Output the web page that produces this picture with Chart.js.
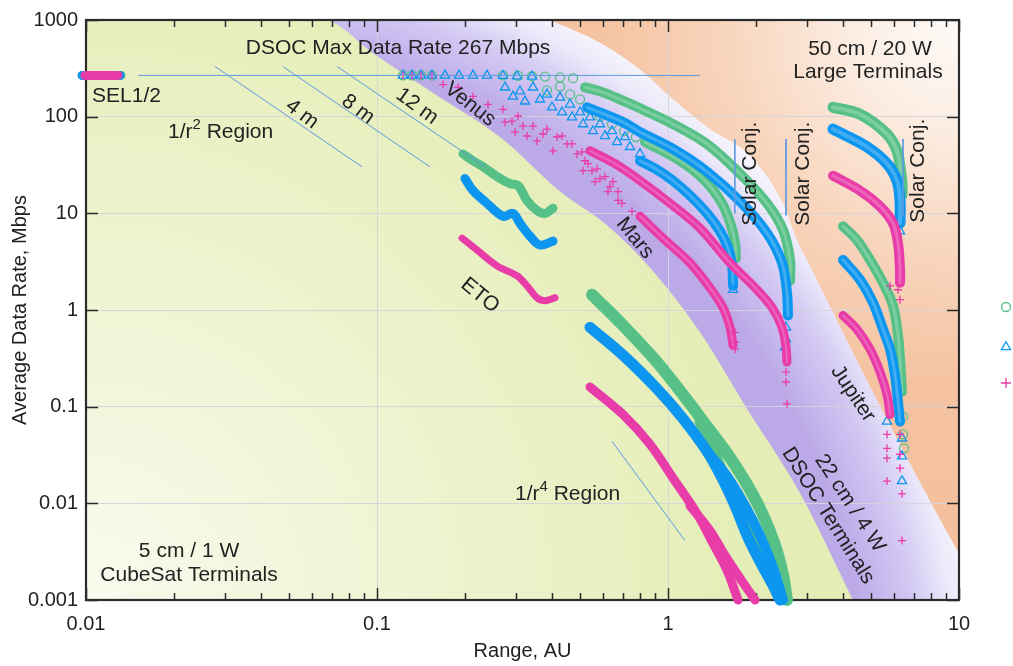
<!DOCTYPE html>
<html>
<head>
<meta charset="utf-8">
<script src="https://cdn.jsdelivr.net/npm/chart.js@4.4.1/dist/chart.umd.min.js"></script>
<style>
  html, body { margin: 0; padding: 0; background: #fff; }
  canvas { display: block; }
</style>
</head>
<body>
<canvas id="chart" width="1013" height="666"></canvas>
<script>
// axes
const xTicks = [0.01, 0.1, 1, 10];
const xTickLabels = ['0.01', '0.1', '1', '10'];
const yTicks = [0.001, 0.01, 0.1, 1, 10, 100, 1000];
const yTickLabels = ['0.001', '0.01', '0.1', '1', '10', '100', '1000'];

// terminal regions, boundary curves [AU, Mbps]
const cubesatEdge = [[0.01, 1000], [0.0652, 1000], [0.0984, 437], [0.1647, 158], [0.2647, 61.6], [0.4256, 16.8],
  [0.6172, 7.53], [0.8672, 2.73], [1.288, 0.588], [1.868, 0.0954], [2.84, 0.0128], [4.32, 0.001]];
const largeEdge = [[0.393, 1000], [0.584, 581], [0.801, 307], [1.040, 151], [1.394, 74.4], [1.913, 39.3],
  [2.485, 12.7], [2.775, 5.29], [3.076, 2.86], [3.690, 0.943], [5.27, 0.112], [7.95, 0.0106], [10, 0.00303]];
const dsocTop = [[0.01, 1000], [10, 1000]];

// guide lines
const maxRateLine = [[0.0151, 267], [1.288, 267]];
const line4m = [[0.02775, 330], [0.0888, 30.3]];
const line8m = [[0.0475, 330], [0.152, 30.3]];
const line12m = [[0.0729, 330], [0.235, 30.3]];
const lineR4 = [[0.642, 0.0438], [1.143, 0.00412]];
const conj1 = [[1.697, 58.7], [1.697, 10]];
const conj2 = [[2.544, 58.7], [2.544, 9.5]];
const conj3 = [[6.42, 58.7], [6.42, 9.3]];

// green series (circles)
const greenSel = [[0.00969, 267], [0.01319, 267]];
const greenTop = [[0.1228, 267], [0.1319, 267], [0.1417, 267], [0.1545, 267], [0.2710, 267], [0.3051, 265],
  [0.3409, 262], [0.3779, 260], [0.4256, 255], [0.4717, 250]];
const greenVenusDots = [[0.3839, 187], [0.4256, 205], [0.4605, 170], [0.4986, 151], [0.5395, 119], [0.5839, 101],
  [0.642, 83.8], [0.706, 71.0], [0.776, 61.6]];
const greenVenus = [[0.834, 54.8], [1.100, 35.0], [1.340, 21.8], [1.533, 12.7], [1.646, 7.53], [1.700, 4.92], [1.713, 3.46]];
const greenMars = [[0.5187, 200.7], [0.5839, 182.6], [0.6841, 151], [0.8013, 122], [1.040, 83.8], [1.361, 52.2],
  [1.768, 25.7], [2.189, 12.7], [2.485, 6.69], [2.626, 3.30], [2.626, 2.01]];
const greenEto = [[0.1975, 41.2], [0.2137, 35.0], [0.2314, 30.3], [0.2585, 24.0], [0.2864, 20.3], [0.3051, 19.4],
  [0.3277, 13.6], [0.3547, 10.7], [0.3779, 10.0], [0.4026, 11.3]];
const greenLow = [[0.5482, 1.44], [0.7005, 0.693], [0.9167, 0.289], [1.126, 0.133], [1.361, 0.0624], [1.595, 0.033],
  [1.839, 0.017], [2.104, 0.008], [2.333, 0.00366], [2.485, 0.0018], [2.564, 0.001]];
const greenLow2 = [[1.288, 0.0702], [1.417, 0.0389], [1.533, 0.0216], [1.768, 0.00943], [2.022, 0.00443],
  [2.278, 0.00229], [2.485, 0.00127]];
const greenJup = [[3.690, 125], [4.569, 106], [5.657, 66.2], [6.122, 44.3], [6.270, 30.3], [6.370, 20.3], [6.370, 15.5]];
const greenJup2 = [[3.994, 7.36], [4.462, 5.29], [4.946, 3.30], [5.481, 1.91], [5.933, 1.11], [6.171, 0.548],
  [6.270, 0.311], [6.370, 0.143]];
const greenJupDots = [[6.421, 0.0789], [6.421, 0.0516], [6.47, 0.0371]];

// blue series (triangles)
const blueSel = [[0.0097, 267], [0.0131, 267]];
const blueTop = [[0.1228, 267], [0.1319, 267], [0.1417, 267], [0.1545, 267], [0.1713, 267], [0.1913, 267],
  [0.2137, 267], [0.2388, 267], [0.2710, 265], [0.3027, 262], [0.3409, 260]];
const blueVenusDots = [[0.2754, 201], [0.2933, 162], [0.3099, 183], [0.3225, 144], [0.3436, 201], [0.3632, 151],
  [0.3839, 170], [0.3994, 125], [0.4256, 158], [0.4324, 111], [0.4605, 134], [0.4680, 98.8], [0.4986, 111],
  [0.5106, 83.8], [0.5395, 98.8], [0.5525, 71.0], [0.5839, 83.8], [0.6075, 63.1], [0.642, 71.0], [0.6680, 54.8],
  [0.7116, 61.6], [0.7403, 48.7], [0.8013, 41.2]];
const blueVenus = [[0.8013, 35.0], [0.9167, 28.3], [1.040, 21.8], [1.190, 15.3], [1.361, 10.0], [1.509, 6.54],
  [1.608, 4.38], [1.660, 2.93], [1.673, 1.78]];
const blueMars = [[0.5269, 125], [0.7005, 87.8], [0.8013, 69.3], [1.040, 46.4], [1.361, 27.0], [1.768, 13.3],
  [2.189, 6.24], [2.465, 3.07], [2.564, 1.51], [2.585, 0.878]];
const blueTails = [[1.673, 1.62], [2.544, 0.661], [2.544, 0.498], [2.525, 0.412]];
const blueEto = [[0.2006, 22.9], [0.2137, 17.2], [0.2388, 12.7], [0.2710, 9.32], [0.2933, 10.0], [0.3099, 7.90],
  [0.3356, 5.81], [0.3632, 4.70], [0.4026, 5.16]];
const blueLow = [[0.5395, 0.661], [0.7005, 0.341], [0.9167, 0.153], [1.126, 0.0753], [1.361, 0.0345], [1.533, 0.0183],
  [1.700, 0.00943], [1.883, 0.00443], [2.104, 0.00229], [2.296, 0.00141], [2.427, 0.001]];
const blueLow2 = [[1.361, 0.0345], [1.595, 0.0191], [1.839, 0.00943], [2.071, 0.00464], [2.278, 0.00229],
  [2.427, 0.00127], [2.485, 0.001]];
const blueJup = [[3.690, 74.4], [4.829, 48.7], [5.657, 32.6], [6.122, 21.8], [6.270, 13.6], [6.270, 7.90]];
const blueJup2 = [[3.994, 3.30], [4.569, 2.06], [5.065, 1.19], [5.481, 0.631], [5.794, 0.393], [6.027, 0.213],
  [6.171, 0.112], [6.270, 0.0702]];
const blueJupDots = [[6.270, 6.54], [6.370, 0.047], [6.370, 0.0307], [6.370, 0.017], [5.657, 0.0702]];

// pink series (crosses)
const pinkSel = [[0.00992, 267], [0.01288, 267]];
const pinkTop = [[0.1228, 267], [0.1319, 267], [0.1417, 267], [0.1545, 267]];
const pinkVenusDots = [[0.1686, 215], [0.1898, 201], [0.2137, 162], [0.2407, 134], [0.2710, 119], [0.2754, 87.8],
  [0.2910, 89.9], [0.3051, 101], [0.2980, 69.3], [0.3174, 79.9], [0.3277, 63.1], [0.3436, 79.9], [0.3547, 56.1],
  [0.3719, 66.2], [0.3839, 74.4], [0.4026, 44.3], [0.4156, 61.6], [0.4324, 63.1], [0.4498, 52.2], [0.4680, 52.2],
  [0.4869, 41.2], [0.5065, 43.2], [0.5187, 35.0], [0.5311, 32.6], [0.5482, 27.6], [0.5702, 28.9], [0.5839, 22.9],
  [0.6075, 24.0], [0.6320, 18.9], [0.6471, 21.3], [0.6733, 16.8], [0.6733, 13.6], [0.5106, 27.6], [0.5612, 21.3],
  [0.622, 16.8], [0.695, 12.7], [0.752, 10.5]];
const pinkVenus = [[0.8013, 9.32], [0.9765, 5.29], [1.190, 3.07], [1.394, 1.70], [1.545, 1.06], [1.634, 0.661], [1.673, 0.432]];
const pinkMars = [[0.5395, 44.3], [0.6575, 32.6], [0.8013, 21.8], [1.016, 12.7], [1.288, 7.02], [1.634, 3.07],
  [1.991, 1.70], [2.278, 1.06], [2.465, 0.661], [2.544, 0.412], [2.564, 0.289]];
const pinkTails = [[1.700, 0.588], [1.700, 0.464], [1.700, 0.393], [2.544, 0.229], [2.544, 0.180], [2.564, 0.107]];
const pinkEto = [[0.1960, 5.54], [0.2206, 4.17], [0.2585, 2.86], [0.3027, 2.26], [0.3277, 1.78], [0.3547, 1.34],
  [0.3779, 1.25], [0.4090, 1.34]];
const pinkLow = [[0.5395, 0.160], [0.7005, 0.0828], [0.8672, 0.0408], [1.040, 0.0183], [1.258, 0.0078],
  [1.428, 0.00384], [1.595, 0.00203], [1.740, 0.001]];
const pinkLow2 = [[1.190, 0.00943], [1.394, 0.00522], [1.570, 0.00289], [1.768, 0.00168], [1.991, 0.001]];
const pinkJup = [[3.690, 24.5], [4.569, 17.2], [5.352, 11.8], [5.933, 7.90], [6.171, 4.92], [6.270, 2.60], [6.270, 1.91]];
const pinkJup2 = [[3.994, 0.878], [4.462, 0.631], [4.946, 0.393], [5.352, 0.229], [5.657, 0.133], [5.794, 0.0828]];
const pinkJupDots = [[6.171, 1.62], [6.270, 1.28], [5.794, 1.78], [5.657, 0.0516], [5.657, 0.0371], [5.657, 0.0293],
  [5.657, 0.017], [6.270, 0.0516], [6.270, 0.0322], [6.270, 0.0231], [6.370, 0.0125], [6.370, 0.00412]];

// annotations [AU, Mbps]
const notes = [
  { text: 'DSOC Max Data Rate 267 Mbps', x: 0.1181, y: 516 },
  { text: 'SEL1/2', x: 0.01049, y: 162, align: 'left' },
  { text: '4 m', x: 0.05525, y: 106, rot: 37 },
  { text: '8 m', x: 0.0861, y: 119, rot: 37 },
  { text: '12 m', x: 0.1372, y: 128, rot: 36 },
  { text: 'Venus', x: 0.2087, y: 134, rot: 38 },
  { text: 'ETO', x: 0.226, y: 1.41, rot: 39 },
  { text: 'Mars', x: 0.770, y: 5.54, rot: 51 },
  { text: 'Solar Conj.', x: 1.913, y: 25.7, rot: -90 },
  { text: 'Solar Conj.', x: 2.91, y: 25.7, rot: -90 },
  { text: 'Solar Conj.', x: 7.23, y: 27.6, rot: -90 },
  { text: '50 cm / 20 W', x: 4.946, y: 504 },
  { text: 'Large Terminals', x: 4.867, y: 286 },
  { text: 'Jupiter', x: 4.32, y: 0.136, rot: 56 },
  { text: '22 cm / 4 W', x: 4.22, y: 0.01, rot: 57 },
  { text: 'DSOC Terminals', x: 3.55, y: 0.00745, rot: 58 },
  { text: '5 cm / 1 W', x: 0.0226, y: 0.00318 },
  { text: 'CubeSat Terminals', x: 0.0226, y: 0.0018 },
];
const powerNotes = [
  { base: '1/r', sup: '2', rest: ' Region', x: 0.01913, y: 69.3 },
  { base: '1/r', sup: '4', rest: ' Region', x: 0.298, y: 0.0125 },
];

const GREEN = 'rgb(86,192,134)';
const BLUE = 'rgb(12,150,240)';
const PINK = 'rgb(232,60,168)';
const FONT = '"Liberation Sans", Arial, Helvetica, sans-serif';

const pts = arr => arr.map(([x, y]) => ({ x, y }));

function band(arr, color, width, order) {
  return {
    data: pts(arr), borderColor: color, borderWidth: width, pointRadius: 0, tension: 0.35,
    fill: false, clip: false, borderCapStyle: 'round', borderJoinStyle: 'round', order
  };
}

// dense runs of markers: coloured band with a lighter core
function markBand(arr, color, width, order) {
  return [band(arr, 'rgba(255,255,255,0.22)', Math.max(2, width - 7), order), band(arr, color, width, order)];
}

function marks(arr, style, color, r, order) {
  return {
    data: pts(arr), showLine: false, pointStyle: style, pointRadius: r, pointBorderColor: color,
    pointBackgroundColor: 'rgba(0,0,0,0)', pointBorderWidth: 1.3, clip: false, order
  };
}

function guide(arr) {
  return { data: pts(arr), borderColor: 'rgb(95,155,225)', borderWidth: 1, pointRadius: 0, fill: false, order: 0 };
}

function radial(ctx, cx, cy, stops) {
  const max = stops[stops.length - 1][0];
  const g = ctx.createRadialGradient(cx, cy, 0, cx, cy, max);
  stops.forEach(([r, c]) => g.addColorStop(r / max, c));
  return g;
}

function region(arr, fill, paint, order) {
  return {
    data: pts(arr), borderWidth: 0, borderColor: 'rgba(0,0,0,0)', pointRadius: 0, fill,
    cubicInterpolationMode: 'monotone', order,
    backgroundColor: (c) => {
      const a = c.chart.chartArea;
      if (!a) return 'rgba(0,0,0,0)';
      return paint(c.chart.ctx, a);
    }
  };
}

const purplePaint = (ctx, a) => radial(ctx, a.left + 93, a.top + 706, [
  [0, 'rgb(186,168,232)'], [690, 'rgb(188,170,232)'], [745, 'rgb(211,201,243)'],
  [780, 'rgb(236,233,250)'], [805, 'rgb(246,244,252)'], [1100, 'rgb(247,245,252)']]);
const orangePaint = (ctx, a) => radial(ctx, a.right + 1, a.top, [
  [0, 'rgb(254,250,247)'], [90, 'rgb(252,240,231)'], [230, 'rgb(248,214,190)'],
  [360, 'rgb(245,195,162)'], [600, 'rgb(243,190,155)']]);
const yellowPaint = (ctx, a) => radial(ctx, a.left, a.bottom, [
  [0, 'rgb(250,250,238)'], [300, 'rgb(240,244,212)'], [650, 'rgb(229,238,184)'], [900, 'rgb(226,236,178)']]);

const datasets = [
  guide(maxRateLine), guide(line4m), guide(line8m), guide(line12m), guide(lineR4),
  guide(conj1), guide(conj2), guide(conj3),

  band(pinkSel, PINK, 9, 1),
  marks(pinkTop, 'cross', PINK, 4, 1),
  marks(pinkVenusDots, 'cross', PINK, 4, 1),
  marks(pinkTails, 'cross', PINK, 4, 1),
  marks(pinkJupDots, 'cross', PINK, 4, 1),
  markBand(pinkVenus, PINK, 9, 1),
  markBand(pinkMars, PINK, 9, 1),
  markBand(pinkJup, PINK, 10, 1),
  markBand(pinkJup2, PINK, 9, 1),
  band(pinkEto, PINK, 7, 1),
  band(pinkLow, PINK, 9, 1),
  band(pinkLow2, PINK, 9, 1),

  band(blueSel, BLUE, 9, 2),
  marks(blueTop, 'triangle', BLUE, 5.3, 2),
  marks(blueVenusDots, 'triangle', BLUE, 5.3, 2),
  marks(blueTails, 'triangle', BLUE, 5.3, 2),
  marks(blueJupDots, 'triangle', BLUE, 5.3, 2),
  markBand(blueVenus, BLUE, 10, 2),
  markBand(blueMars, BLUE, 10, 2),
  markBand(blueJup, BLUE, 11, 2),
  markBand(blueJup2, BLUE, 10, 2),
  band(blueEto, BLUE, 9, 2),
  band(blueLow, BLUE, 11, 2),
  band(blueLow2, BLUE, 10, 2),

  band(greenSel, GREEN, 9, 3),
  marks(greenTop, 'circle', GREEN, 4.5, 3),
  marks(greenVenusDots, 'circle', GREEN, 4.5, 3),
  marks(greenJupDots, 'circle', GREEN, 4.5, 3),
  markBand(greenVenus, GREEN, 10, 3),
  markBand(greenMars, GREEN, 10, 3),
  markBand(greenJup, GREEN, 11, 3),
  markBand(greenJup2, GREEN, 10, 3),
  band(greenEto, GREEN, 9, 3),
  band(greenLow, GREEN, 12, 3),
  band(greenLow2, GREEN, 11, 3),

  region(largeEdge, 'end', orangePaint, 20),
  region(cubesatEdge, 'start', yellowPaint, 21),
  region(dsocTop, 'start', purplePaint, 22),
].flat();

const framePlugin = {
  id: 'frame',
  beforeDatasetsDraw(chart) {
    const { ctx, chartArea: a, scales: { x, y } } = chart;
    ctx.save();
    ctx.strokeStyle = '#2b2b2b';
    ctx.lineWidth = 1.5;
    ctx.beginPath();
    xTicks.forEach((d, i) => {
      for (let k = 1; k < 10; k++) {
        if (i === xTicks.length - 1 && k > 1) break;
        const px = Math.round(x.getPixelForValue(d * k)) + 0.5;
        const len = k === 1 ? 12 : 7;
        ctx.moveTo(px, a.bottom); ctx.lineTo(px, a.bottom - len);
        ctx.moveTo(px, a.top); ctx.lineTo(px, a.top + len);
      }
    });
    yTicks.forEach(v => {
      const py = Math.round(y.getPixelForValue(v)) + 0.5;
      ctx.moveTo(a.left, py); ctx.lineTo(a.left + 12, py);
      ctx.moveTo(a.right, py); ctx.lineTo(a.right - 12, py);
    });
    ctx.stroke();
    ctx.lineWidth = 2.2;
    ctx.strokeRect(a.left, a.top, a.right - a.left, a.bottom - a.top);
    ctx.restore();
  }
};

const notesPlugin = {
  id: 'notes',
  afterDatasetsDraw(chart) {
    const { ctx, scales: { x, y } } = chart;
    ctx.save();
    ctx.fillStyle = '#222';
    ctx.textBaseline = 'middle';
    notes.forEach(n => {
      ctx.save();
      ctx.translate(x.getPixelForValue(n.x), y.getPixelForValue(n.y));
      ctx.rotate((n.rot || 0) * Math.PI / 180);
      ctx.font = '21px ' + FONT;
      ctx.textAlign = n.align || 'center';
      ctx.fillText(n.text, 0, 0);
      ctx.restore();
    });
    powerNotes.forEach(n => {
      let px = x.getPixelForValue(n.x);
      const py = y.getPixelForValue(n.y);
      ctx.textAlign = 'left';
      ctx.font = '21px ' + FONT;
      ctx.fillText(n.base, px, py);
      px += ctx.measureText(n.base).width;
      ctx.font = '15px ' + FONT;
      ctx.fillText(n.sup, px, py - 7);
      px += ctx.measureText(n.sup).width;
      ctx.font = '21px ' + FONT;
      ctx.fillText(n.rest, px, py);
    });
    ctx.restore();
  }
};

// legend column is cut off at the right edge: only the markers show
const legendPlugin = {
  id: 'legendMarks',
  afterDraw(chart) {
    const { ctx, chartArea: a } = chart;
    const cx = a.right + 47;
    ctx.save();
    ctx.lineWidth = 1.3;
    ctx.strokeStyle = GREEN;
    ctx.beginPath(); ctx.arc(cx, 307, 4.5, 0, Math.PI * 2); ctx.stroke();
    ctx.strokeStyle = BLUE;
    ctx.beginPath();
    ctx.moveTo(cx, 347 - 5.3); ctx.lineTo(cx - 4.6, 347 + 2.65); ctx.lineTo(cx + 4.6, 347 + 2.65); ctx.closePath();
    ctx.stroke();
    ctx.strokeStyle = PINK;
    ctx.beginPath();
    ctx.moveTo(cx - 5, 383); ctx.lineTo(cx + 5, 383);
    ctx.moveTo(cx, 378); ctx.lineTo(cx, 388);
    ctx.stroke();
    ctx.restore();
  }
};

new Chart(document.getElementById('chart'), {
  type: 'line',
  data: { datasets },
  options: {
    responsive: false,
    devicePixelRatio: 1,
    animation: false,
    events: [],
    layout: { padding: { left: 0, right: 54, top: 15, bottom: 0 } },
    plugins: {
      legend: { display: false },
      tooltip: { enabled: false },
      filler: { drawTime: 'beforeDraw' }
    },
    scales: {
      x: {
        type: 'logarithmic', min: 0.01, max: 10,
        afterBuildTicks: s => { s.ticks = xTicks.map(v => ({ value: v })); },
        afterFit: s => { s.height = 66; },
        grid: { color: 'rgba(212,212,218,0.9)', lineWidth: 1, drawTicks: false },
        border: { display: false },
        ticks: {
          autoSkip: false, maxRotation: 0, padding: 12, color: '#222',
          font: { family: FONT, size: 20 },
          callback: (v, i) => xTickLabels[i]
        },
        title: { display: true, text: 'Range, AU', color: '#222', font: { family: FONT, size: 20 }, padding: { top: 0, bottom: 3 } }
      },
      y: {
        type: 'logarithmic', min: 0.001, max: 1000,
        afterBuildTicks: s => { s.ticks = yTicks.map(v => ({ value: v })); },
        afterFit: s => { s.width = 86; },
        grid: { color: 'rgba(212,212,218,0.9)', lineWidth: 1, drawTicks: false },
        border: { display: false },
        ticks: {
          autoSkip: false, padding: 8, color: '#222',
          font: { family: FONT, size: 20 },
          callback: (v, i) => yTickLabels[i]
        },
        title: { display: true, text: 'Average Data Rate, Mbps', color: '#222', font: { family: FONT, size: 20 }, padding: { top: 8, bottom: 0 } }
      }
    }
  },
  plugins: [framePlugin, notesPlugin, legendPlugin]
});
</script>
</body>
</html>
